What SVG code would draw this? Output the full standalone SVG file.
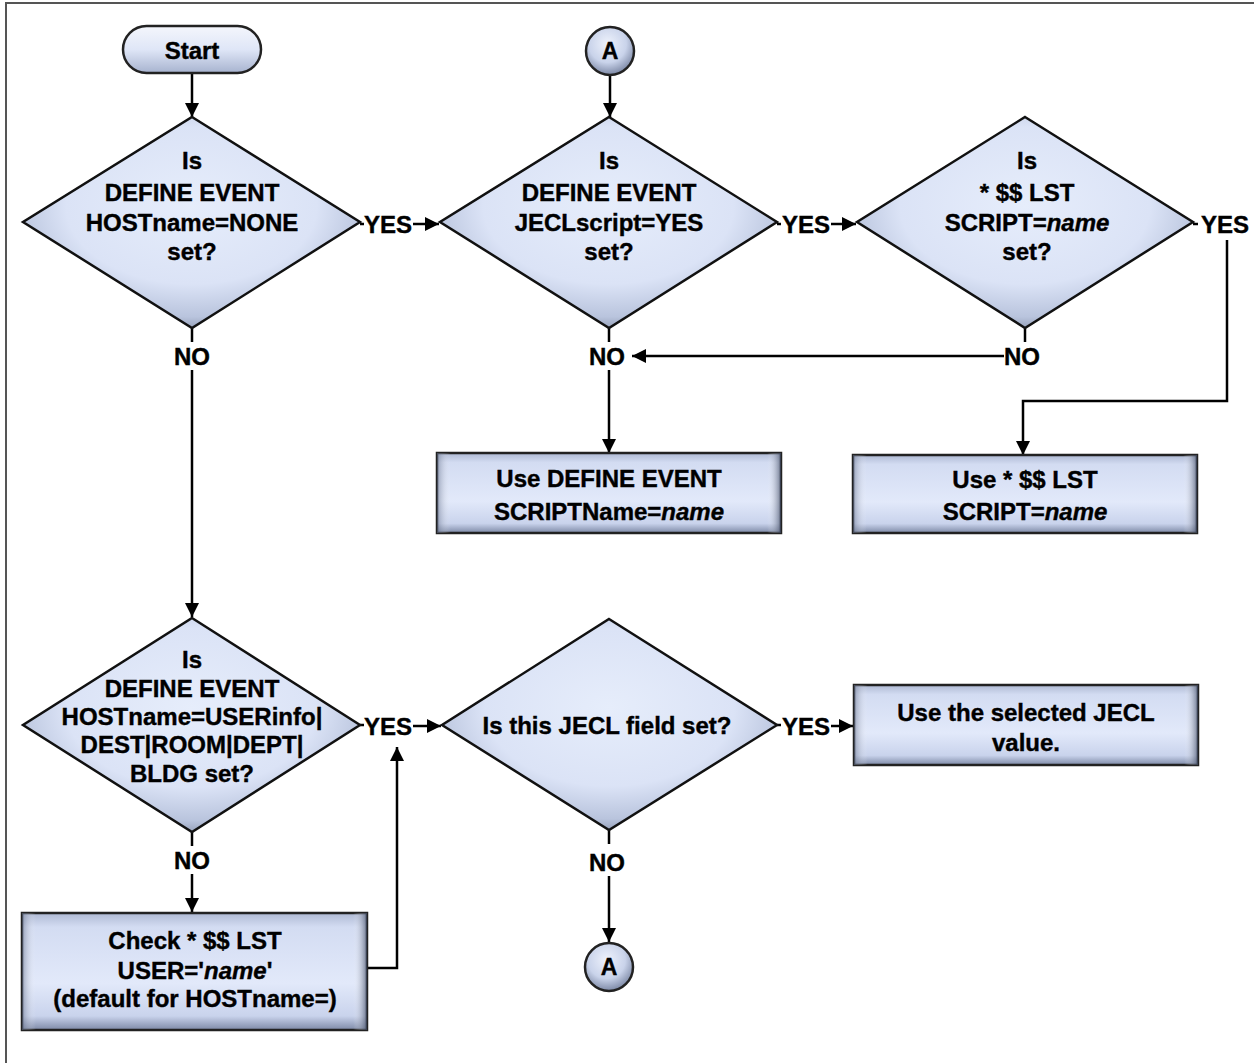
<svg xmlns="http://www.w3.org/2000/svg" width="1254" height="1063" viewBox="0 0 1254 1063">
<defs>
  <radialGradient id="gDia" cx="50%" cy="42%" r="62%">
    <stop offset="0" stop-color="#e6edfb"/>
    <stop offset="0.6" stop-color="#dbe3f6"/>
    <stop offset="0.85" stop-color="#b9c4dd"/>
    <stop offset="1" stop-color="#7f8aa3"/>
  </radialGradient>
  <linearGradient id="gBox" x1="0" y1="0" x2="0" y2="1">
    <stop offset="0" stop-color="#aeb9d3"/>
    <stop offset="0.12" stop-color="#d3dcf2"/>
    <stop offset="0.6" stop-color="#e2e9fa"/>
    <stop offset="0.88" stop-color="#c9d3ec"/>
    <stop offset="1" stop-color="#7d89a6"/>
  </linearGradient>
  <linearGradient id="gSide" x1="0" y1="0" x2="1" y2="0">
    <stop offset="0" stop-color="#5f6b87" stop-opacity="0.55"/>
    <stop offset="0.04" stop-color="#ffffff" stop-opacity="0"/>
    <stop offset="0.96" stop-color="#ffffff" stop-opacity="0"/>
    <stop offset="1" stop-color="#3d4862" stop-opacity="0.7"/>
  </linearGradient>
  <linearGradient id="gPill" x1="0" y1="0" x2="0" y2="1">
    <stop offset="0" stop-color="#f4f6fc"/>
    <stop offset="0.5" stop-color="#dfe6f7"/>
    <stop offset="1" stop-color="#a7b3cf"/>
  </linearGradient>
  <radialGradient id="gCirc" cx="45%" cy="35%" r="65%">
    <stop offset="0" stop-color="#eef2fc"/>
    <stop offset="0.6" stop-color="#c9d3ea"/>
    <stop offset="1" stop-color="#7c88a5"/>
  </radialGradient>
  <marker id="ah" viewBox="0 0 14 14" refX="14" refY="7" markerWidth="14" markerHeight="14" markerUnits="userSpaceOnUse" orient="auto">
    <path d="M0,0 L14,7 L0,14 Z" fill="#000"/>
  </marker>
  <style>
    text { font-family: "Liberation Sans", Arial, sans-serif; font-weight: bold; font-size: 24px; fill: #000; stroke: #000; stroke-width: 0.4; text-anchor: middle; }
    .circ { font-size: 23px; }
    .dia { fill: url(#gDia); stroke: #111; stroke-width: 2.5; }
    .box { fill: url(#gBox); stroke: #222; stroke-width: 2.5; }
    .side { fill: url(#gSide); stroke: none; }
    .con { fill: none; stroke: #000; stroke-width: 2.5; }
    .arr { marker-end: url(#ah); }
  </style>
</defs>
<rect x="0" y="0" width="1254" height="1063" fill="#fff"/>
<rect x="6" y="3" width="1270" height="1080" fill="none" stroke="#555" stroke-width="2"/>

<g id="connectors">
  <path class="con arr" d="M192,73 V117"/>
  <path class="con" d="M192,328 V342"/>
  <path class="con arr" d="M192,370 V617"/>
  <path class="con" d="M360,224 H364"/>
  <path class="con arr" d="M413,224 H439"/>
  <path class="con arr" d="M610,75 V117"/>
  <path class="con" d="M777,224 H781"/>
  <path class="con arr" d="M831,224 H856"/>
  <path class="con" d="M609,328 V342"/>
  <path class="con arr" d="M609,370 V453"/>
  <path class="con" d="M1025,328 V342"/>
  <path class="con arr" d="M1004,356 H632"/>
  <path class="con" d="M1193,224 H1198"/>
  <path class="con arr" d="M1227,240 V401 H1023 V455"/>
  <path class="con" d="M360,725 H364"/>
  <path class="con arr" d="M413,726 H441"/>
  <path class="con" d="M192,832 V846"/>
  <path class="con arr" d="M192,874 V912"/>
  <path class="con arr" d="M367,968 H397 V747"/>
  <path class="con" d="M777,725 H781"/>
  <path class="con arr" d="M831,726 H853"/>
  <path class="con" d="M609,830 V844"/>
  <path class="con arr" d="M609,876 V942"/>
  <text x="388" y="233">YES</text>
  <text x="806" y="233">YES</text>
  <text x="1225" y="233">YES</text>
  <text x="192" y="365">NO</text>
  <text x="607" y="365">NO</text>
  <text x="1022" y="365">NO</text>
  <text x="388" y="735">YES</text>
  <text x="806" y="735">YES</text>
  <text x="192" y="869">NO</text>
  <text x="607" y="871">NO</text>
</g>

<g id="start">
  <rect x="123" y="26" width="138" height="47" rx="23.5" fill="url(#gPill)" stroke="#222" stroke-width="2.5"/>
  <text x="192" y="59">Start</text>
</g>

<g id="connA1">
  <circle cx="610" cy="51" r="24" fill="url(#gCirc)" stroke="#222" stroke-width="2.5"/>
  <text class="circ" x="610" y="59">A</text>
</g>

<g id="d1">
  <polygon class="dia" points="192,117 360,222 192,328 23,222"/>
  <text x="192" y="169">Is</text>
  <text x="192" y="201">DEFINE EVENT</text>
  <text x="192" y="231">HOSTname=NONE</text>
  <text x="192" y="260">set?</text>
</g>

<g id="d2">
  <polygon class="dia" points="609,117 777,222 609,328 440,222"/>
  <text x="609" y="169">Is</text>
  <text x="609" y="201">DEFINE EVENT</text>
  <text x="609" y="231">JECLscript=YES</text>
  <text x="609" y="260">set?</text>
</g>

<g id="d3">
  <polygon class="dia" points="1025,117 1193,222 1025,328 857,222"/>
  <text x="1027" y="169">Is</text>
  <text x="1027" y="201">* $$ LST</text>
  <text x="1027" y="231">SCRIPT=<tspan font-style="italic">name</tspan></text>
  <text x="1027" y="260">set?</text>
</g>

<g id="b1">
  <rect class="box" x="437" y="453" width="344" height="80"/>
  <rect class="side" x="437" y="453" width="344" height="80"/>
  <text x="609" y="487">Use DEFINE EVENT</text>
  <text x="609" y="520">SCRIPTName=<tspan font-style="italic">name</tspan></text>
</g>

<g id="b2">
  <rect class="box" x="853" y="455" width="344" height="78"/>
  <rect class="side" x="853" y="455" width="344" height="78"/>
  <text x="1025" y="488">Use * $$ LST</text>
  <text x="1025" y="520">SCRIPT=<tspan font-style="italic">name</tspan></text>
</g>

<g id="d4">
  <polygon class="dia" points="192,618 360,725 192,832 23,725"/>
  <text x="192" y="668">Is</text>
  <text x="192" y="697">DEFINE EVENT</text>
  <text x="192" y="725">HOSTname=USERinfo|</text>
  <text x="192" y="753">DEST|ROOM|DEPT|</text>
  <text x="192" y="782">BLDG set?</text>
</g>

<g id="d5">
  <polygon class="dia" points="609,619 777,725 609,830 442,725"/>
  <text x="607" y="734">Is this JECL field set?</text>
</g>

<g id="b3">
  <rect class="box" x="854" y="685" width="344" height="80"/>
  <rect class="side" x="854" y="685" width="344" height="80"/>
  <text x="1026" y="721">Use the selected JECL</text>
  <text x="1026" y="751">value.</text>
</g>

<g id="b4">
  <rect class="box" x="22" y="913" width="345" height="117"/>
  <rect class="side" x="22" y="913" width="345" height="117"/>
  <text x="195" y="949">Check * $$ LST</text>
  <text x="195" y="979">USER='<tspan font-style="italic">name</tspan>'</text>
  <text x="195" y="1007">(default for HOSTname=)</text>
</g>

<g id="connA2">
  <circle cx="609" cy="967" r="24" fill="url(#gCirc)" stroke="#222" stroke-width="2.5"/>
  <text class="circ" x="609" y="975">A</text>
</g>
</svg>
